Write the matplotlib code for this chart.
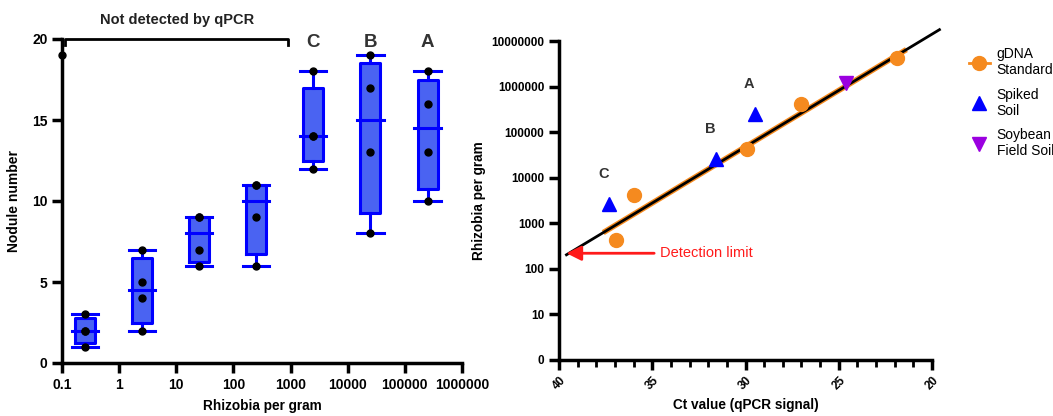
import matplotlib.pyplot as plt
import numpy as np
from matplotlib.lines import Line2D

plt.rcParams['font.family'] = ['Liberation Sans', 'DejaVu Sans']

# ---------------- data ----------------
# left panel: nodule counts per inoculum level
rhizobia = [0.25, 2.5, 25, 250, 2500, 25000, 250000]
nodules = [
    [1, 2, 2, 3],
    [2, 4, 5, 7],
    [6, 7, 9, 9],
    [6, 9, 11, 11],
    [12, 14, 14, 18],
    [8, 13, 17, 19],
    [10, 13, 16, 18],
]
group_letters = {2500: 'C', 25000: 'B', 250000: 'A'}
stray_x, stray_y = 0.1, 19
x_ticks_left = [0.1, 1, 10, 100, 1000, 10000, 100000, 1000000]
x_labels_left = ['0.1', '1', '10', '100', '1000', '10000', '100000', '1000000']

# right panel: standard curve
gdna_ct = [21.9, 27.0, 29.9, 36.0, 36.95]
gdna_n = [4.2e6, 4.2e5, 4.2e4, 4.2e3, 420]
spiked_ct = [29.5, 31.6, 37.3]
spiked_n = [2.5e5, 2.6e4, 2.6e3]
spiked_labels = ['A', 'B', 'C']
field_ct = [24.6]
field_n = [1.2e6]
fit_slope, fit_intercept = -0.247, 12.09   # log10(N) = intercept + slope*Ct
fit_range = [39.6, 19.6]
std_range = [37.5, 21.5]
detect_ct, detect_n = 39.6, 220
y_ticks_right = [1, 10, 100, 1000, 1e4, 1e5, 1e6, 1e7]
y_labels_right = ['0', '10', '100', '1000', '10000', '100000', '1000000', '10000000']


def quart(v):
    # GraphPad style quartiles
    v = np.sort(v)
    n = len(v)
    def q(p):
        pos = (n + 1) * p - 1
        lo = int(np.floor(pos))
        hi = min(lo + 1, n - 1)
        return v[lo] + (pos - lo) * (v[hi] - v[lo])
    return q(0.25), np.median(v), q(0.75)


blue = '#0000FF'
fill = '#4A63F2'

fig = plt.figure(figsize=(10.53, 4.16), dpi=100)

# ---------------- left panel ----------------
ax = fig.add_axes([62/1053, 1-363/416, 400/1053, 324/416])
ax.set_xscale('log')
ax.set_xlim(0.1, 1e6)
ax.set_ylim(0, 20)

hb, hc = 10**0.175, 10**0.23
for x, vals in zip(rhizobia, nodules):
    q1, med, q3 = quart(vals)
    lo, hi = min(vals), max(vals)
    ax.fill_between([x/hb, x*hb], q1, q3, color=fill, zorder=2)
    ax.plot([x/hb, x*hb, x*hb, x/hb, x/hb], [q1, q1, q3, q3, q1], color=blue, lw=2.2, zorder=3)
    ax.plot([x/hc, x*hc], [med, med], color=blue, lw=2.2, zorder=3)
    ax.plot([x, x], [lo, q1], color=blue, lw=2.2, zorder=3)
    ax.plot([x, x], [q3, hi], color=blue, lw=2.2, zorder=3)
    ax.plot([x/hc, x*hc], [lo, lo], color=blue, lw=2.2, zorder=3)
    ax.plot([x/hc, x*hc], [hi, hi], color=blue, lw=2.2, zorder=3)
    ax.plot([x]*len(vals), vals, 'o', color='black', ms=5, zorder=4)
    if x in group_letters:
        ax.text(x, 19.8, group_letters[x], ha='center', va='center',
                fontsize=13.5, fontweight='bold', color='#333333')

ax.plot([stray_x], [stray_y], 'o', color='black', ms=5, clip_on=False, zorder=5)

# bracket
ax.plot([0.115, 0.115, 900, 900], [19.6, 20, 20, 19.6], color='black', lw=2, clip_on=False)
ax.text(10.5, 21.2, 'Not detected by qPCR', ha='center', va='center',
        fontsize=10.5, fontweight='bold', color='#222222')

ax.set_xticks(x_ticks_left)
ax.set_xticklabels(x_labels_left)
ax.minorticks_off()
ax.set_yticks([0, 5, 10, 15, 20])
for s in ['top', 'right']:
    ax.spines[s].set_visible(False)
for s in ['left', 'bottom']:
    ax.spines[s].set_linewidth(2.5)
ax.tick_params(width=2.5, length=7, labelsize=10)
for t in ax.get_xticklabels() + ax.get_yticklabels():
    t.set_fontweight('bold')
ax.set_xlabel('Rhizobia per gram', fontsize=9.8, fontweight='bold', labelpad=5)
ax.set_ylabel('Nodule number', fontsize=10, fontweight='bold', labelpad=8)

# ---------------- right panel ----------------
ax2 = fig.add_axes([559/1053, 1-360/416, 373/1053, 319/416])
ax2.set_yscale('log')
ax2.set_xlim(40, 20)
ax2.set_ylim(1, 1e7)

ct_std = np.array(std_range)
ax2.plot(ct_std, 10**(fit_intercept + fit_slope*ct_std), color='#F58A1F', lw=4, zorder=2)
ct_fit = np.array(fit_range)
ax2.plot(ct_fit, 10**(fit_intercept + fit_slope*ct_fit), color='black', lw=2, zorder=3, clip_on=False)

ax2.plot(gdna_ct, gdna_n, 'o', color='#F58A1F', ms=10, zorder=4)
ax2.plot(spiked_ct, spiked_n, '^', color='#0000FF', ms=10, zorder=4)
ax2.plot(field_ct, field_n, 'v', color='#9B00E0', ms=10, zorder=4)
for c, n, lab in zip(spiked_ct, spiked_n, spiked_labels):
    ax2.text(c + 0.3, n*3.2, lab, ha='center', va='bottom', fontsize=10.5,
             fontweight='bold', color='#333333')

ax2.annotate('Detection limit', xy=(detect_ct, detect_n), xytext=(34.6, detect_n),
             color='#FF1A1A', fontsize=10.5, va='center', ha='left',
             arrowprops=dict(arrowstyle='-|>', color='#FF1A1A', lw=2,
                             mutation_scale=22, shrinkA=2, shrinkB=0))

ax2.set_xticks([40, 35, 30, 25, 20])
ax2.set_xticks(np.arange(20, 41, 1), minor=True)
ax2.set_yticks(y_ticks_right)
ax2.set_yticklabels(y_labels_right)
ax2.yaxis.set_minor_locator(plt.NullLocator())
for s in ['top', 'right']:
    ax2.spines[s].set_visible(False)
for s in ['left', 'bottom']:
    ax2.spines[s].set_linewidth(2.5)
ax2.tick_params(which='major', width=2.5, length=7, labelsize=8.5)
ax2.tick_params(which='minor', width=2, length=5)
for t in ax2.get_xticklabels():
    t.set_rotation(45)
    t.set_fontweight('bold')
for t in ax2.get_yticklabels():
    t.set_fontweight('bold')
ax2.set_xlabel('Ct value (qPCR signal)', fontsize=9.8, fontweight='bold', labelpad=4)
ax2.set_ylabel('Rhizobia per gram', fontsize=9.8, fontweight='bold', labelpad=4)

handles = [
    Line2D([], [], color='#F58A1F', marker='o', ms=10, lw=2),
    Line2D([], [], color='#0000FF', marker='^', ms=10, lw=0),
    Line2D([], [], color='#9B00E0', marker='v', ms=10, lw=0),
]
fig.legend(handles, ['gDNA\nStandard', 'Spiked\nSoil', 'Soybean\nField Soil'],
           loc='upper left', bbox_to_anchor=(962/1053, 1-40/416), frameon=False,
           fontsize=10, handlelength=1.5, handletextpad=0.5, labelspacing=0.75,
           borderpad=0)

fig.savefig('out.png', dpi=100)
